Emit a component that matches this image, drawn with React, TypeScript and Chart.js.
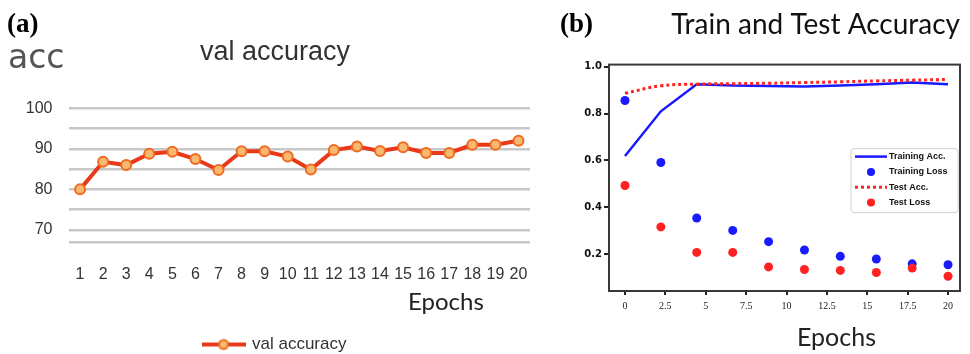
import React, { useEffect, useRef } from "react";
import { Chart, registerables } from "chart.js";

Chart.register(...registerables);

// ---------- Panel (a) data ----------
const epochLabelsA = ["1", "2", "3", "4", "5", "6", "7", "8", "9", "10", "11", "12", "13", "14", "15", "16", "17", "18", "19", "20"];
const valAccuracy = [80, 86.8, 86, 88.8, 89.3, 87.5, 84.8, 89.4, 89.4, 88.1, 84.9, 89.7, 90.6, 89.5, 90.4, 89.0, 89.0, 91.0, 91.0, 92.0];
const accGridValues = [67, 70, 75, 80, 85, 90, 95, 100];
const accTickLabels = [70, 80, 90, 100];

// ---------- Panel (b) data ----------
const epochsB = [0, 2.22, 4.44, 6.67, 8.89, 11.11, 13.33, 15.56, 17.78, 20];
const trainingAcc = [0.619, 0.81, 0.926, 0.92, 0.918, 0.916, 0.92, 0.926, 0.933, 0.926];
const trainingLoss = [0.856, 0.591, 0.354, 0.301, 0.253, 0.217, 0.19, 0.179, 0.158, 0.154];
const testAcc = [0.887, 0.919, 0.926, 0.928, 0.93, 0.933, 0.936, 0.94, 0.943, 0.946];
const testLoss = [0.493, 0.316, 0.207, 0.207, 0.145, 0.134, 0.13, 0.121, 0.14, 0.105];
const epochTicksB = [0, 2.5, 5, 7.5, 10, 12.5, 15, 17.5, 20];
const valueTicksB = [0.2, 0.4, 0.6, 0.8, 1.0];

const LINE_A = "#e8391a";
const POINT_A_FILL = "#f9b870";
const POINT_A_BORDER = "#f06a20";
const BLUE = "#1a1aff";
const RED = "#ff2222";

function makeLegendMarker(): HTMLCanvasElement {
  const mk = document.createElement("canvas");
  mk.width = 44;
  mk.height = 14;
  const c = mk.getContext("2d")!;
  c.strokeStyle = LINE_A;
  c.lineWidth = 4;
  c.beginPath();
  c.moveTo(0, 7);
  c.lineTo(44, 7);
  c.stroke();
  c.beginPath();
  c.arc(22, 7, 4.5, 0, Math.PI * 2);
  c.fillStyle = POINT_A_FILL;
  c.fill();
  c.lineWidth = 2;
  c.strokeStyle = POINT_A_BORDER;
  c.stroke();
  return mk;
}

const framePlugin = {
  id: "frameBox",
  beforeDatasetsDraw(chart: any) {
    const { ctx, chartArea } = chart;
    ctx.save();
    ctx.strokeStyle = "#3a3a3a";
    ctx.lineWidth = 2;
    ctx.strokeRect(chartArea.left, chartArea.top, chartArea.right - chartArea.left, chartArea.bottom - chartArea.top);
    ctx.restore();
  },
};

const innerLegendPlugin = {
  id: "innerLegend",
  afterDraw(chart: any) {
    const { ctx, chartArea } = chart;
    const boxW = 107;
    const boxH = 64;
    const x0 = chartArea.right - 2 - boxW;
    const y0 = chartArea.top + 84;
    ctx.save();
    ctx.fillStyle = "rgba(255,255,255,0.85)";
    ctx.strokeStyle = "#cfcfcf";
    ctx.lineWidth = 1;
    ctx.beginPath();
    (ctx as any).roundRect ? ctx.roundRect(x0, y0, boxW, boxH, 3) : ctx.rect(x0, y0, boxW, boxH);
    ctx.fill();
    ctx.stroke();
    const rowH = 15.3;
    chart.data.datasets.forEach((ds: any, i: number) => {
      const cy = y0 + 8 + i * rowH;
      const sx = x0 + 4;
      const ex = x0 + 36;
      if (ds.showLine === false) {
        ctx.beginPath();
        ctx.fillStyle = ds.pointBackgroundColor;
        ctx.arc((sx + ex) / 2, cy, 4, 0, Math.PI * 2);
        ctx.fill();
      } else {
        ctx.beginPath();
        ctx.strokeStyle = ds.borderColor;
        ctx.lineWidth = ds.borderWidth;
        ctx.setLineDash(ds.borderDash || []);
        ctx.moveTo(sx, cy);
        ctx.lineTo(ex, cy);
        ctx.stroke();
        ctx.setLineDash([]);
      }
      ctx.fillStyle = "#111";
      ctx.font = "bold 9px 'Liberation Sans', sans-serif";
      ctx.textBaseline = "middle";
      ctx.textAlign = "left";
      ctx.fillText(ds.label, ex + 2, cy);
    });
    ctx.restore();
  },
};

export default function App() {
  const refA = useRef<HTMLCanvasElement>(null);
  const refB = useRef<HTMLCanvasElement>(null);

  useEffect(() => {
    const marker = makeLegendMarker();
    const chartA = new Chart(refA.current!, {
      type: "line",
      data: {
        labels: epochLabelsA,
        datasets: [
          {
            label: "val accuracy",
            data: valAccuracy,
            borderColor: LINE_A,
            borderWidth: 4,
            pointRadius: 5,
            pointBackgroundColor: POINT_A_FILL,
            pointBorderColor: POINT_A_BORDER,
            pointBorderWidth: 2,
            tension: 0,
          },
        ],
      },
      options: {
        responsive: false,
        animation: false,
        layout: { padding: { left: 20, right: 30, top: 36, bottom: -9 } },
        plugins: {
          tooltip: { enabled: false },
          title: {
            display: true,
            text: "val accuracy",
            color: "#333",
            font: { family: "'Liberation Sans', Arial, sans-serif", size: 27, weight: "normal" },
            padding: { top: 0, bottom: 40 },
          },
          legend: {
            display: true,
            position: "bottom",
            labels: {
              usePointStyle: true,
              pointStyleWidth: 40,
              padding: 1,
              color: "#333",
              font: { family: "'Liberation Sans', Arial, sans-serif", size: 17 },
              generateLabels: (chart: any) =>
                chart.data.datasets.map((ds: any, i: number) => ({
                  text: ds.label,
                  pointStyle: marker,
                  datasetIndex: i,
                  fillStyle: POINT_A_FILL,
                  strokeStyle: LINE_A,
                  lineWidth: 0,
                  hidden: false,
                  fontColor: "#333",
                })),
            },
          },
        },
        scales: {
          x: {
            type: "category",
            offset: true,
            grid: { display: false },
            border: { display: false },
            ticks: {
              autoSkip: false,
              maxRotation: 0,
              padding: 15,
              color: "#333",
              font: { family: "'Liberation Sans', Arial, sans-serif", size: 16 },
            },
            afterFit: (scale: any) => {
              scale.height = 93;
            },
          },
          y: {
            min: 67,
            max: 100,
            border: { display: false },
            grid: { color: "#c8c8c8", lineWidth: 2.5, drawTicks: false },
            afterBuildTicks: (scale: any) => {
              scale.ticks = accGridValues.map((v) => ({ value: v }));
            },
            ticks: {
              autoSkip: false,
              padding: 16,
              color: "#333",
              font: { family: "'Liberation Sans', Arial, sans-serif", size: 16 },
              callback: (v: any) => (accTickLabels.includes(Number(v)) ? String(v) : ""),
            },
            afterFit: (scale: any) => {
              scale.width = 48.5;
            },
          },
        },
      },
    });

    const chartB = new Chart(refB.current!, {
      type: "line",
      data: {
        datasets: [
          {
            label: "Training Acc.",
            data: epochsB.map((x, i) => ({ x, y: trainingAcc[i] })),
            borderColor: BLUE,
            borderWidth: 2.5,
            pointRadius: 0,
            tension: 0,
            order: 1,
          },
          {
            label: "Training Loss",
            data: epochsB.map((x, i) => ({ x, y: trainingLoss[i] })),
            showLine: false,
            pointRadius: 4.5,
            pointBackgroundColor: BLUE,
            pointBorderWidth: 0,
            borderColor: BLUE,
            order: 3,
          },
          {
            label: "Test Acc.",
            data: epochsB.map((x, i) => ({ x, y: testAcc[i] })),
            borderColor: RED,
            borderWidth: 3,
            borderDash: [3, 3],
            pointRadius: 0,
            tension: 0.4,
            order: 0,
          },
          {
            label: "Test Loss",
            data: epochsB.map((x, i) => ({ x, y: testLoss[i] })),
            showLine: false,
            pointRadius: 4.5,
            pointBackgroundColor: RED,
            pointBorderWidth: 0,
            borderColor: RED,
            order: 2,
          },
        ],
      },
      options: {
        responsive: false,
        animation: false,
        layout: { padding: { left: 9, right: 10, top: 8, bottom: 37 } },
        plugins: {
          tooltip: { enabled: false },
          legend: { display: false },
          title: {
            display: true,
            text: "Train and Test Accuracy",
            align: "end",
            color: "#111",
            font: { family: "Lato, 'Open Sans', sans-serif", size: 28, weight: "normal" },
            padding: { top: 0, bottom: 23 },
          },
        },
        scales: {
          x: {
            type: "linear",
            min: -0.99,
            max: 20.74,
            border: { display: false },
            grid: { drawOnChartArea: false, drawTicks: true, tickLength: 4, color: "#222", lineWidth: 2 },
            afterBuildTicks: (scale: any) => {
              scale.ticks = epochTicksB.map((v) => ({ value: v }));
            },
            ticks: {
              autoSkip: false,
              padding: 5,
              color: "#222",
              maxRotation: 0,
              font: { family: "'Liberation Serif', serif", size: 10 },
              callback: (v: any) => String(v),
            },
          },
          y: {
            min: 0.042,
            max: 1.0096,
            border: { display: false },
            grid: { drawOnChartArea: false, drawTicks: true, tickLength: 5, color: "#222", lineWidth: 2 },
            afterBuildTicks: (scale: any) => {
              scale.ticks = valueTicksB.map((v) => ({ value: v }));
            },
            ticks: {
              autoSkip: false,
              padding: 2,
              color: "#111",
              font: { family: "'DejaVu Sans', sans-serif", size: 10, weight: "bold" },
              callback: (v: any) => Number(v).toFixed(1),
            },
            afterFit: (scale: any) => {
              scale.width = 40;
            },
          },
        },
      },
      plugins: [framePlugin, innerLegendPlugin],
    });

    return () => {
      chartA.destroy();
      chartB.destroy();
    };
  }, []);

  const panelLabel: React.CSSProperties = {
    position: "absolute",
    fontFamily: "'Liberation Serif', 'Times New Roman', serif",
    fontWeight: "bold",
    fontSize: 27,
    lineHeight: 1,
    color: "#000",
  };

  return (
    <div style={{ position: "absolute", left: 0, top: 0, width: 970, height: 354, background: "#fff", overflow: "hidden" }}>
      <canvas ref={refA} width={560} height={354} style={{ position: "absolute", left: 0, top: 0 }} />
      <canvas ref={refB} width={410} height={354} style={{ position: "absolute", left: 560, top: 0 }} />
      <div style={{ ...panelLabel, left: 7, top: 10 }}>(a)</div>
      <div style={{ ...panelLabel, left: 560, top: 10 }}>(b)</div>
      <div
        style={{
          position: "absolute",
          left: 8,
          top: 40,
          fontFamily: "'DejaVu Sans', sans-serif",
          fontSize: 33,
          lineHeight: 1,
          color: "#555",
        }}
      >
        acc
      </div>
      <div
        style={{
          position: "absolute",
          left: 408,
          top: 289,
          fontFamily: "Lato, sans-serif",
          fontSize: 24,
          lineHeight: 1,
          color: "#222",
        }}
      >
        Epochs
      </div>
      <div
        style={{
          position: "absolute",
          left: 797,
          top: 324,
          fontFamily: "Lato, sans-serif",
          fontSize: 25,
          lineHeight: 1,
          color: "#222",
        }}
      >
        Epochs
      </div>
    </div>
  );
}
